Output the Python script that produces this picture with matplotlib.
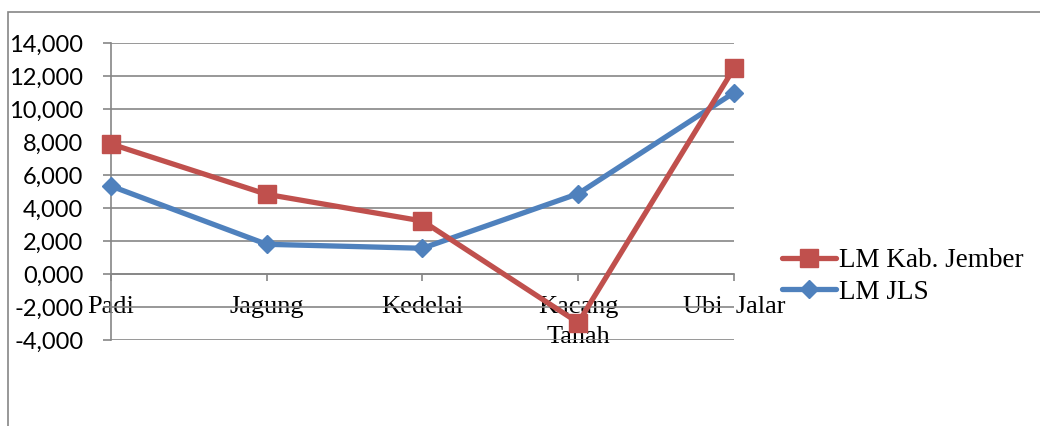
import matplotlib
matplotlib.use('Agg')
import matplotlib.pyplot as plt
from matplotlib.ticker import FuncFormatter
from matplotlib.patches import Rectangle

categories = ['Padi', 'Jagung', 'Kedelai', 'Kacang\nTanah', 'Ubi  Jalar']
lm_jember = [7.88, 4.83, 3.21, -2.95, 12.47]
lm_jls = [5.33, 1.80, 1.56, 4.87, 10.99]
y_ticks = [-4, -2, 0, 2, 4, 6, 8, 10, 12, 14]

red = '#C0504D'
blue = '#4F81BD'
grid = '#868686'

fig = plt.figure(figsize=(10.4, 4.26), dpi=100)
ax = fig.add_axes([111/1040, 1 - 340/426, (734 - 111)/1040, (340 - 43)/426])

# outer chart frame
fig.patches.append(Rectangle((8/1040, -0.1), 1.1, 1 - 12/426 + 0.1,
                             transform=fig.transFigure, fill=False,
                             edgecolor=grid, lw=1.2))

x = list(range(len(categories)))
l2, = ax.plot(x, lm_jls, color=blue, lw=3.8, marker='D', ms=9, label='LM JLS',
              solid_capstyle='round', zorder=3, clip_on=False)
l1, = ax.plot(x, lm_jember, color=red, lw=3.8, marker='s', ms=13.5,
              label='LM Kab. Jember', solid_capstyle='round', zorder=4,
              clip_on=False)

ax.set_xlim(0, 4)
ax.set_ylim(-4, 14)
ax.set_yticks(y_ticks)
ax.yaxis.set_major_formatter(FuncFormatter(lambda v, p: f'{v:.3f}'.replace('.', ',')))
ax.grid(axis='y', color=grid, lw=1.2)
ax.set_axisbelow(True)

for s in ['top', 'right']:
    ax.spines[s].set_visible(False)
ax.spines['left'].set_color(grid)
ax.spines['left'].set_linewidth(1.2)
ax.spines['bottom'].set_position(('data', 0))
ax.spines['bottom'].set_color(grid)
ax.spines['bottom'].set_linewidth(1.2)

ax.set_xticks(x)
ax.set_xticklabels(categories, family='Liberation Serif', fontsize=19,
                   linespacing=1.45, va='top')
ax.tick_params(axis='x', direction='out', length=5, width=1.2, color=grid, pad=11)
ax.tick_params(axis='y', direction='out', length=6, width=1.2, color=grid,
               pad=14, labelsize=17)
for t in ax.get_yticklabels():
    t.set_family('Lato')

fig.legend([l1, l2], ['LM Kab. Jember', 'LM JLS'], loc='upper left',
           bbox_to_anchor=(782/1040, 1 - 248/426), frameon=False,
           prop={'family': 'Liberation Serif', 'size': 19.5},
           handlelength=2.0, handletextpad=0.1, labelspacing=0.25,
           borderaxespad=0, borderpad=0)

fig.savefig('out.png', dpi=100)
